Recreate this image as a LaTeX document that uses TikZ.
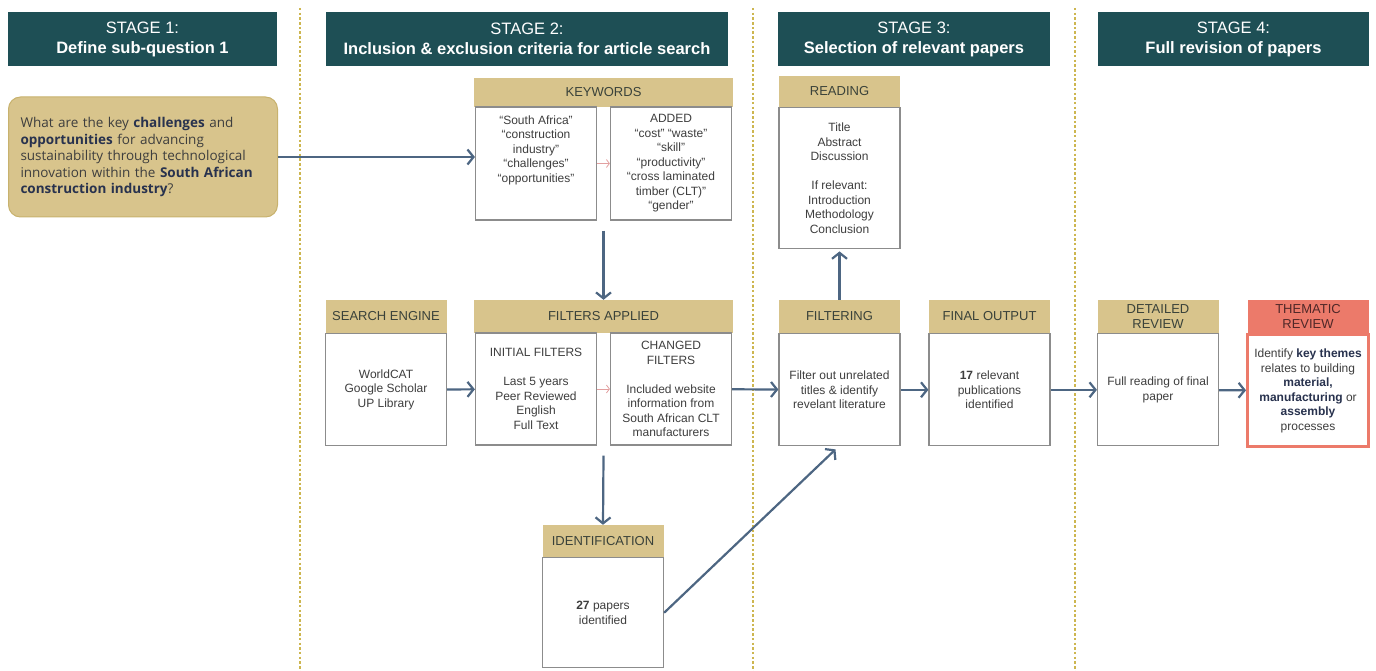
\documentclass[tikz,border=0pt]{standalone}
\usepackage{fontspec}
\setmainfont{Liberation Sans}
\newfontfamily\qfont{Open Sans}
\usetikzlibrary{positioning,arrows.meta}

\definecolor{stageteal}{RGB}{30,79,85}
\definecolor{capgold}{RGB}{216,196,140}
\definecolor{qedge}{RGB}{200,178,110}
\definecolor{captext}{RGB}{58,66,58}
\definecolor{cardgray}{RGB}{140,140,140}
\definecolor{cardtext}{RGB}{62,62,62}
\definecolor{flowblue}{RGB}{77,102,130}
\definecolor{hintpink}{RGB}{226,160,160}
\definecolor{dividergold}{RGB}{205,182,80}
\definecolor{alertred}{RGB}{236,122,106}
\definecolor{alerttext}{RGB}{80,40,40}
\definecolor{navy}{RGB}{40,50,78}
\newcommand{\hl}[1]{\textcolor{navy}{\textbf{#1}}}

\begin{document}
\begin{tikzpicture}[x=1pt, y=-1pt,
  stagehead/.style = {fill=stageteal, text=white, align=center,
    minimum height=54pt, inner sep=0pt,
    font=\fontsize{16.5}{20}\selectfont},
  capbox/.style = {fill=capgold, text=captext, align=center,
    minimum width=121pt, minimum height=33pt, inner sep=0pt,
    font=\fontsize{13}{15}\selectfont},
  card/.style = {draw=cardgray, line width=1.2pt, fill=white,
    align=center, inner sep=0pt, text=cardtext,
    minimum width=121pt, minimum height=112pt,
    font=\fontsize{12}{14.5}\selectfont},
  question/.style = {fill=capgold, draw=qedge, line width=1pt,
    rounded corners=12pt, anchor=west, align=left,
    text width=245pt, inner xsep=12pt, minimum height=120pt,
    text=cardtext, font=\qfont\fontsize{13.5}{16.5}\selectfont},
  flow/.style = {draw=flowblue, line width=2.2pt,
    -{Straight Barb[length=6pt, width=15pt]}},
  hint/.style = {draw=hintpink, line width=0.8pt,
    -{Straight Barb[length=3pt, width=8pt]}},
  divider/.style = {draw=dividergold, line width=2pt,
    dash pattern=on 2.5pt off 2.2pt}]

  \useasboundingbox (0,0) rectangle (1376,671);

  \foreach \x in {300,753,1075}
    \draw[divider] (\x,8) -- (\x,671);

  % stage banners
  \node[stagehead, minimum width=269pt] (s1) at (142.5,39)
    {STAGE 1:\\\textbf{Define sub-question 1}};
  \node[stagehead, minimum width=402pt] (s2) at (527,39)
    {STAGE 2:\\\textbf{Inclusion \& exclusion criteria for article search}};
  \node[stagehead, minimum width=272pt] (s3) at (914,39)
    {STAGE 3:\\\textbf{Selection of relevant papers}};
  \node[stagehead, minimum width=271pt] (s4) at (1233.5,39)
    {STAGE 4:\\\textbf{Full revision of papers}};

  \node[question] (rq) at (8,157)
    {What are the key \hl{challenges} and\\
     \hl{opportunities} for advancing\\
     sustainability through technological\\
     innovation within the \hl{South African}\\
     \hl{construction industry}?};

  % stage 2
  \node[capbox, minimum width=259pt, minimum height=29pt] (kw) at (603.5,92.5) {KEYWORDS};
  \node[card, minimum height=113pt] (kwL) at (536,163.5)
    {“South Africa”\\“construction\\industry”\\“challenges”\\“opportunities”\\\mbox{}\\\mbox{}};
  \node[card, minimum height=113pt] (kwR) at (671,163.5)
    {ADDED\\“cost” “waste”\\“skill”\\“productivity”\\“cross laminated\\timber (CLT)”\\“gender”};

  \node[capbox] (se) at (386,316.5) {SEARCH ENGINE};
  \node[card, below=0pt of se] (seb) {WorldCAT\\Google Scholar\\UP Library};

  \node[capbox, minimum width=259pt] (fa) at (603.5,316.5) {FILTERS APPLIED};
  \node[card] (faL) at (536,389)
    {INITIAL FILTERS\\[14.5pt]Last 5 years\\Peer Reviewed\\English\\Full Text};
  \node[card] (faR) at (671,389)
    {CHANGED\\FILTERS\\[14.5pt]Included website\\information from\\South African CLT\\manufacturers};

  \node[capbox, minimum height=32pt] (id) at (603,541) {IDENTIFICATION};
  \node[card, minimum height=110pt, below=0pt of id] (idb) {\textbf{27} papers\\identified};

  % stage 3
  \node[capbox, minimum height=31pt] (rd) at (839.5,91.5) {READING};
  \node[card, minimum height=141pt, below=0pt of rd] (rdb)
    {Title\\Abstract\\Discussion\\[14.5pt]If relevant:\\Introduction\\Methodology\\Conclusion};

  \node[capbox] (fl) at (839.5,316.5) {FILTERING};
  \node[card, below=0pt of fl] (flb)
    {Filter out unrelated\\titles \& identify\\revelant literature};

  \node[capbox] (fo) at (989.5,316.5) {FINAL OUTPUT};
  \node[card, below=0pt of fo] (fob)
    {\textbf{17} relevant\\publications\\identified};

  % stage 4
  \node[capbox] (dr) at (1158,316.5) {DETAILED\\REVIEW};
  \node[card, below=0pt of dr] (drb) {Full reading of final\\paper};

  \node[capbox, fill=alertred, text=alerttext] (th) at (1308,316.5) {THEMATIC\\REVIEW};
  \node[card, draw=alertred, line width=3pt, below=0pt of th] (thb)
    {Identify \hl{key themes}\\relates to building\\\hl{material,}\\\hl{manufacturing} or\\\hl{assembly}\\processes};

  \draw[flow] (rq.east) -- (rq.east -| kwL.west);
  \draw[hint] (kwL) -- (kwR);
  \draw[flow] ([yshift=-10pt]kwL.south -| kw.south) -- (fa.north);
  \draw[flow] (seb) -- (faL);
  \draw[hint] (faL) -- (faR);
  \draw[flow] (faR) -- (flb);
  \draw[flow] ([yshift=-10pt]faL.south -| fa.south) -- (id.north);
  \draw[flow] (idb.east) -- ([xshift=-4pt, yshift=-3pt]flb.south);
  \draw[flow] (fl.north) -- ([yshift=-2pt]rdb.south);
  \draw[flow] (flb) -- (fob);
  \draw[flow] (fob) -- (drb);
  \draw[flow] (drb) -- (thb);
\end{tikzpicture}
\end{document}
